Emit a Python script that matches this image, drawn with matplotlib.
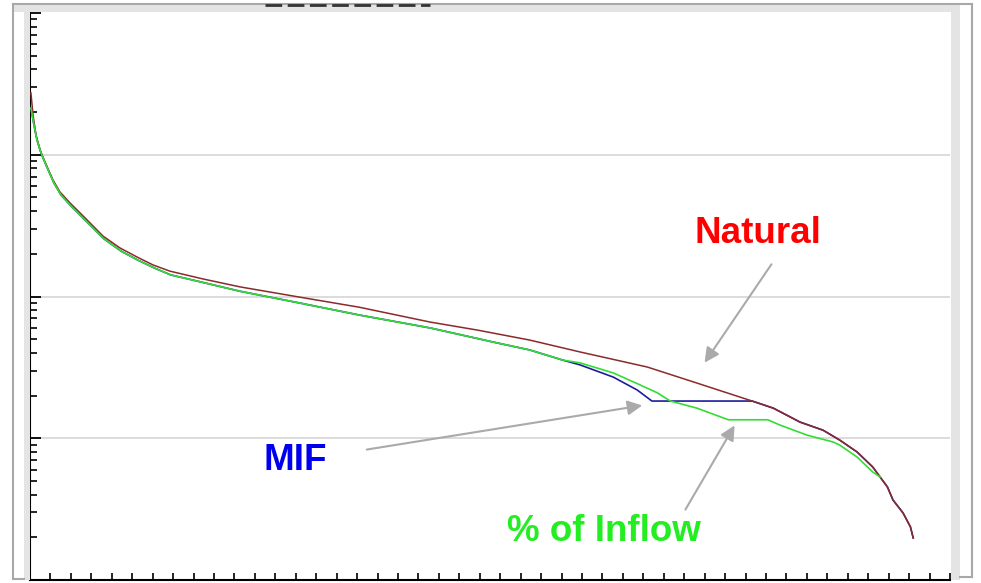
import matplotlib.pyplot as plt
from matplotlib.lines import Line2D
from matplotlib.patches import Rectangle, FancyArrowPatch
from matplotlib.ticker import MultipleLocator, LogLocator, NullFormatter

W, H = 981, 583

# flow duration curves: percent of time exceeded vs flow
x_natural = [0.1, 0.33, 0.65, 1.09, 1.63, 2.5, 3.26, 4.35, 6.2, 7.93, 9.78, 11.63, 13.37,
             15.2, 18.8, 22.8, 29.3, 35.8, 43.5, 48.6, 54.3, 59.8, 67.1, 72.5, 78.5, 80.8,
             83.7, 86.2, 88.0, 89.9, 91.6, 92.4, 93.2, 93.8, 94.9, 95.7, 96.0]
q_natural = [2729, 1907, 1377, 1081, 889, 663, 546, 457, 347, 267, 220, 190, 167,
             151, 133, 117, 99, 84, 66, 58, 49.3, 40.6, 31.8, 24.5, 18.3, 16.3,
             13.0, 11.4, 9.72, 8.0, 6.27, 5.33, 4.53, 3.67, 2.97, 2.37, 1.98]

x_inflow = [0.1, 0.43, 0.76, 1.2, 1.74, 2.6, 3.37, 4.46, 6.3, 8.04, 9.9, 11.7, 13.5, 15.3,
            18.5, 22.8, 29.3, 35.8, 43.5, 50.8, 54.3, 57.9, 59.8, 63.4, 66.3, 68.2, 69.6,
            72.5, 75.9, 80.2, 81.5, 84.5, 87.3, 88.0, 89.9, 91.6, 92.4]
q_inflow = [2138, 1622, 1271, 1028, 847, 632, 520, 435, 330, 255, 209, 181, 159, 142,
            127, 109, 90, 74, 60, 47, 42, 35.6, 34, 28.9, 23.8, 20.9, 18.3,
            16.3, 13.5, 13.5, 12.4, 10.5, 9.41, 8.96, 7.37, 5.78, 5.33]

x_mif = [0.1, 0.43, 0.76, 1.2, 1.74, 2.6, 3.37, 4.46, 6.3, 8.04, 9.9, 11.7, 13.5, 15.3,
         18.5, 22.8, 29.3, 35.8, 43.5, 50.8, 54.3, 57.9, 59.8, 63.4, 66.0, 67.6, 78.5,
         80.8, 83.7, 86.2, 88.0, 89.9, 91.6, 92.4, 93.2, 93.8, 94.9, 95.7, 96.0]
q_mif = [2138, 1622, 1271, 1028, 847, 632, 520, 435, 330, 255, 209, 181, 159, 142,
         127, 109, 90, 74, 60, 47, 42, 35.6, 32.9, 27.0, 21.9, 18.3, 18.3,
         16.3, 13.0, 11.4, 9.72, 8.0, 6.27, 5.33, 4.53, 3.67, 2.97, 2.37, 1.98]


def fx(px):
    return px / W


def fy(py):
    return 1 - py / H


fig = plt.figure(figsize=(W / 100, H / 100), dpi=100)

# window frame bits from the screenshot
fig.add_artist(Rectangle((fx(12), fy(12)), fx(960) - fx(12), fy(4) - fy(12),
                         transform=fig.transFigure, color='#e4e4e4', lw=0))
fig.add_artist(Rectangle((fx(24), fy(580)), fx(30) - fx(24), fy(12) - fy(580),
                         transform=fig.transFigure, color='#e4e4e4', lw=0))
fig.add_artist(Rectangle((fx(951), fy(580)), fx(960) - fx(951), fy(12) - fy(580),
                         transform=fig.transFigure, color='#e4e4e4', lw=0))
gray = '#a8a8a8'
for xs, ys in [([13, 958], [3.5, 3.5]), ([13, 13], [3.5, 579]), ([13, 24], [579, 579]),
               ([960, 972], [3.5, 3.5]), ([972, 972], [3.5, 577]), ([972, 960], [577, 577])]:
    fig.add_artist(Line2D([fx(v) for v in xs], [fy(v) for v in ys],
                          transform=fig.transFigure, color=gray, lw=1.5))
fig.add_artist(Line2D([fx(265), fx(430)], [fy(4.5), fy(4.5)], transform=fig.transFigure,
                      color='#333333', lw=2, linestyle=(0, (6, 2))))

ax = fig.add_axes([fx(30), fy(580), fx(950) - fx(30), fy(13) - fy(580)])
ax.set_yscale('log')
ax.set_xlim(0, 100)
ax.set_ylim(1, 10000)

ax.plot(x_mif, q_mif, color='#1c1c9c', lw=1.2, zorder=3)
ax.plot(x_natural, q_natural, color='#8b2a2a', lw=1.1, zorder=3.5)
ax.plot(x_inflow, q_inflow, color='#33dd33', lw=1.2, zorder=4)

for yv in [10, 100, 1000]:
    ax.axhline(yv, color='#d9d9d9', lw=1.3, zorder=1)

for s in ['top', 'right']:
    ax.spines[s].set_visible(False)
ax.spines['left'].set_linewidth(1.5)
ax.spines['bottom'].set_linewidth(1.5)

ax.xaxis.set_major_locator(MultipleLocator(100 / 45))
ax.yaxis.set_major_locator(LogLocator(base=10))
ax.yaxis.set_minor_locator(LogLocator(base=10, subs=range(2, 10)))
ax.xaxis.set_major_formatter(NullFormatter())
ax.yaxis.set_major_formatter(NullFormatter())
ax.yaxis.set_minor_formatter(NullFormatter())
ax.tick_params(axis='x', direction='in', length=5, width=1.2)
ax.tick_params(axis='y', which='major', direction='in', length=8, width=1.3)
ax.tick_params(axis='y', which='minor', direction='in', length=5, width=1.2)

font = dict(family='Liberation Sans', fontweight='bold', fontsize=26.5)
fig.text(fx(758), fy(243), 'Natural', color='#ff0000', ha='center', va='baseline', **font)
fig.text(fx(295), fy(470), 'MIF', color='#0000ee', ha='center', va='baseline', **font)
fig.text(fx(604), fy(541), '% of Inflow', color='#22ee22', ha='center', va='baseline', **font)

for (x0, y0), (x1, y1) in [((773, 262), (703, 365)), ((364, 450), (645, 405)),
                           ((684, 512), (736, 423))]:
    fig.add_artist(FancyArrowPatch((fx(x0), fy(y0)), (fx(x1), fy(y1)),
                                   transform=fig.transFigure, arrowstyle='-|>',
                                   mutation_scale=22, color='#aaaaaa', lw=1.5))

fig.savefig('out.png', dpi=100)
